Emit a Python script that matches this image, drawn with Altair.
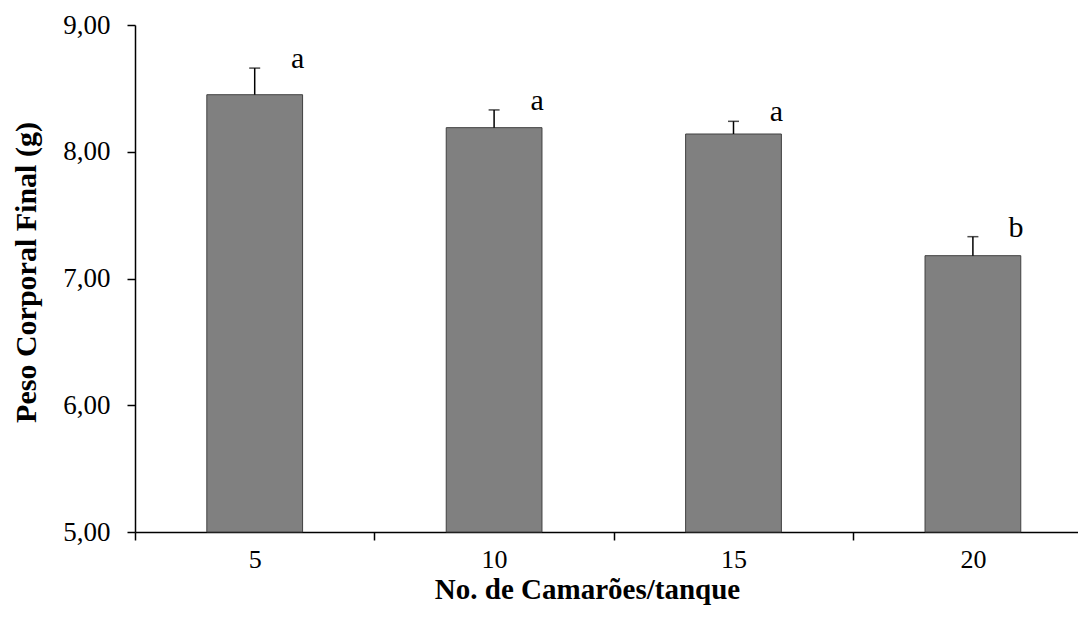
import altair as alt
import pandas as pd

categories = ["5", "10", "15", "20"]
means = [8.45, 8.19, 8.14, 7.18]
errors = [0.21, 0.14, 0.10, 0.15]
letters = ["a", "a", "a", "b"]
y_ticks = [5, 6, 7, 8, 9]

df = pd.DataFrame({"cat": categories, "mean": means, "err": errors, "letter": letters})
df["upper"] = df["mean"] + df["err"]

FONT = "Liberation Serif"

x_enc = alt.X(
    "cat:N",
    sort=categories,
    scale=alt.Scale(range=[0, 957.6], paddingInner=0, paddingOuter=0),
    axis=alt.Axis(
        title="No. de Camarões/tanque",
        titleFont=FONT, titleFontSize=29, titleFontWeight="bold", titleColor="black",
        titleX=452, titleY=66, titleAlign="center", titleBaseline="alphabetic",
        labelAngle=0, labelFont=FONT, labelFontSize=26, labelColor="black",
        labelBaseline="alphabetic", labelPadding=27,
        tickBand="extent", tickSize=8, tickColor="black", tickWidth=1.5,
        domainColor="black", domainWidth=1.5, grid=False,
    ),
)

y_scale = alt.Scale(domain=[5, 9], nice=False, zero=False)
y_axis = alt.Axis(
    title="Peso Corporal Final (g)",
    values=y_ticks,
    labelExpr="replace(format(datum.value, '.2f'), '.', ',')",
    titleFont=FONT, titleFontSize=30, titleFontWeight="bold", titleColor="black",
    titleAngle=270, titleX=-100, titleY=247, titleAlign="center", titleBaseline="alphabetic",
    labelFont=FONT, labelFontSize=27, labelColor="black", labelPadding=17,
    tickSize=8, tickColor="black", tickWidth=1.5,
    domainColor="black", domainWidth=1.5, grid=False,
)

base = alt.Chart(df)

bars = base.mark_bar(color="#808080", stroke="#404040", strokeWidth=1,
                     width=alt.RelativeBandSize(0.4)).encode(
    x=x_enc,
    y=alt.Y("mean:Q", scale=y_scale, axis=y_axis),
    y2=alt.datum(5),
)

err_line = base.mark_rule(color="black", strokeWidth=1.5).encode(
    x=x_enc,
    y=alt.Y("mean:Q", scale=y_scale, axis=y_axis),
    y2="upper:Q",
)

err_cap = base.mark_tick(color="black", thickness=1.5, size=11, orient="horizontal").encode(
    x=x_enc,
    y=alt.Y("upper:Q", scale=y_scale, axis=y_axis),
)

labels = base.mark_text(font=FONT, fontSize=30, dx=43, dy=0, baseline="alphabetic",
                        align="center", color="black").encode(
    x=x_enc,
    y=alt.Y("upper:Q", scale=y_scale, axis=y_axis),
    text="letter:N",
)

chart = alt.layer(bars, err_line, err_cap, labels).properties(
    width=943,
    height=507,
    padding={"left": 127, "top": 17, "right": 0, "bottom": 74},
    autosize=alt.AutoSizeParams(type="none"),
    background="white",
).configure_view(stroke=None)

chart.save("out.html", embed_options={"renderer": "svg", "actions": False})
